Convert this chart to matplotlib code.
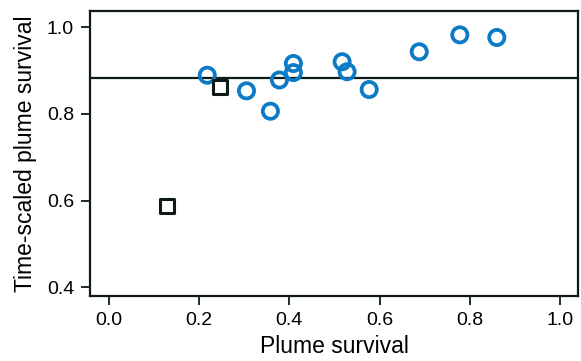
import matplotlib
matplotlib.use("Agg")
import matplotlib.pyplot as plt

# circles: plume survival vs time-scaled plume survival
circle_x = [0.218, 0.305, 0.358, 0.378, 0.409, 0.409, 0.517, 0.528, 0.577, 0.688, 0.778, 0.860]
circle_y = [0.889, 0.853, 0.806, 0.878, 0.916, 0.895, 0.920, 0.897, 0.856, 0.943, 0.982, 0.976]

# squares
square_x = [0.128, 0.246]
square_y = [0.588, 0.861]

ref_level = 0.883

plt.rcParams['font.family'] = ['Liberation Sans', 'DejaVu Sans']

fig = plt.figure(figsize=(5.81, 3.61), dpi=100)
ax = fig.add_axes([90 / 581, 1 - 296 / 361, (578 - 90) / 581, (296 - 11) / 361])

ax.axhline(ref_level, color='#0d1a16', lw=1.6, zorder=1)
ax.scatter(circle_x, circle_y, s=120, facecolors='none', edgecolors='#0a7bc4', linewidths=2.7, zorder=3)
ax.scatter(square_x, square_y, s=100, marker='s', facecolors='white', edgecolors='#0d1a16', linewidths=2.2, zorder=3)

ax.set_xlim(-0.042, 1.04)
ax.set_ylim(0.38, 1.037)
ax.set_xticks([0.0, 0.2, 0.4, 0.6, 0.8, 1.0])
ax.set_yticks([0.4, 0.6, 0.8, 1.0])
ax.xaxis.set_major_formatter(matplotlib.ticker.FormatStrFormatter('%.1f'))
ax.yaxis.set_major_formatter(matplotlib.ticker.FormatStrFormatter('%.1f'))

for s in ax.spines.values():
    s.set_linewidth(1.6)
    s.set_color('#0d1a16')
ax.tick_params(direction='out', length=6.5, width=1.3, labelsize=14, color='#0d1a16', pad=5)

ax.set_xlabel('Plume survival', fontsize=16.5, labelpad=4)
ax.set_ylabel('Time-scaled plume survival', fontsize=16.5, labelpad=7)

fig.savefig('out.png', dpi=100)
